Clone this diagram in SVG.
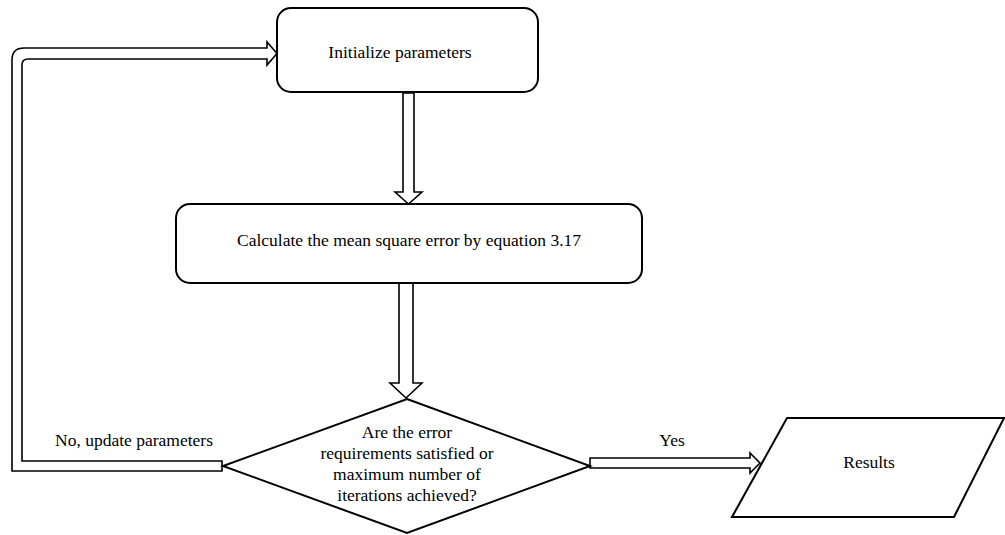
<svg xmlns="http://www.w3.org/2000/svg" width="1005" height="535" viewBox="0 0 1005 535">
<style>
.shape{fill:#fff;stroke:#000;stroke-width:2}
.arrow{fill:#fff;stroke:#000;stroke-width:1.6;stroke-linejoin:miter}
text{font-family:"Liberation Serif","Times New Roman",serif;font-size:17.5px;fill:#000;text-anchor:middle}
</style>
<rect width="1005" height="535" fill="#fff"/>
<g id="connectors">
<path class="arrow" d="M403,93 L403,192 L395,192 L408.5,204 L422,192 L414,192 L414,93 Z"/>
<path class="arrow" d="M399,283 L399,383 L390,383 L406,398 L422,383 L413,383 L413,283 Z"/>
<path class="arrow" d="M222,471 L12,471 L12,60 Q12,48 24,48 L267,48 L267,42 L277,53.5 L267,65 L267,59 L28,59 Q22,59 22,65 L22,461 L222,461 Z"/>
<path class="arrow" d="M590,468 L590,458 L750,458 L750,453 L760,463 L750,473 L750,468 Z"/>
</g>
<g id="node-init">
<rect class="shape" x="277" y="8" width="261" height="84" rx="14"/>
<text x="400" y="58">Initialize parameters</text>
</g>
<g id="node-mse">
<rect class="shape" x="176" y="204" width="466" height="79" rx="14"/>
<text x="409" y="246">Calculate the mean square error by equation 3.17</text>
</g>
<g id="node-decision">
<polygon class="shape" points="407,399 590,466 407,533 223,466"/>
<text x="407" y="438">Are the error</text>
<text x="407" y="459">requirements satisfied or</text>
<text x="407" y="480">maximum number of</text>
<text x="407" y="501">iterations achieved?</text>
</g>
<g id="node-results">
<polygon class="shape" points="787,418 1004,418 954,517 732,517"/>
<text x="869" y="468">Results</text>
</g>
<g id="labels">
<text x="134" y="446">No, update parameters</text>
<text x="672" y="446">Yes</text>
</g>
</svg>
